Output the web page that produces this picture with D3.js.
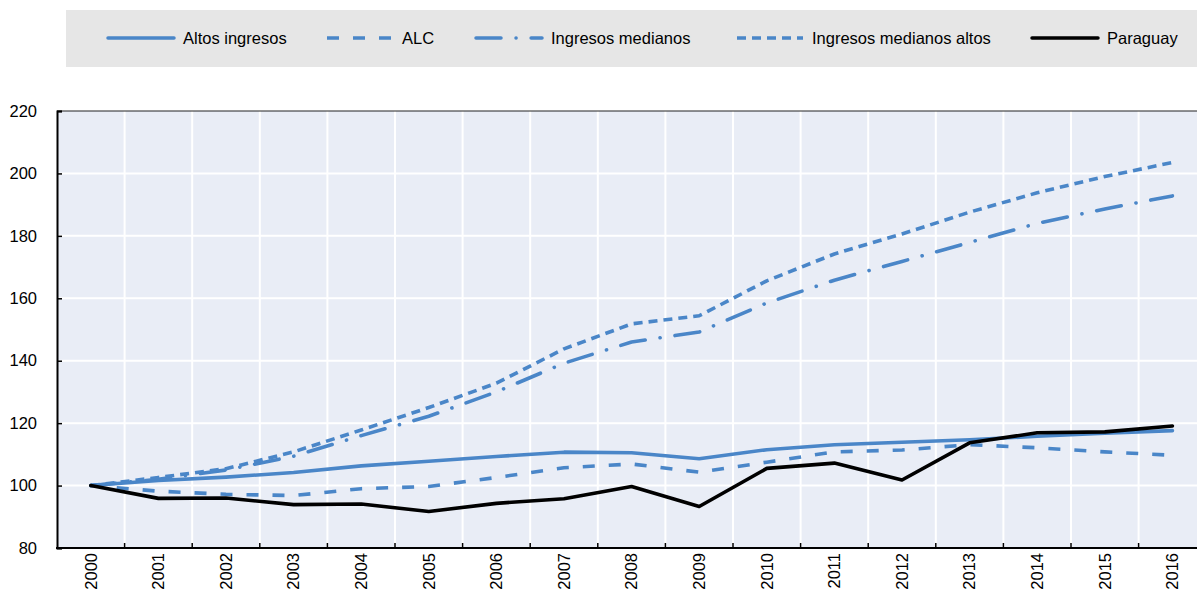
<!DOCTYPE html>
<html>
<head>
<meta charset="utf-8">
<script src="https://cdn.jsdelivr.net/npm/d3@7"></script>
<style>
  body { margin: 0; background: #fff; }
  text { font-family: "Liberation Sans", Arial, sans-serif; font-size: 16.5px; fill: #000; }
</style>
</head>
<body>
<div id="chart"></div>
<script>
// data
const years = ["2000","2001","2002","2003","2004","2005","2006","2007","2008","2009","2010","2011","2012","2013","2014","2015","2016"];
const altosIngresos = [100, 101.6, 102.7, 104.2, 106.3, 107.8, 109.3, 110.7, 110.5, 108.6, 111.5, 113.1, 113.9, 114.7, 115.8, 116.8, 117.6];
const alc = [100, 98.2, 97.2, 96.8, 99.0, 99.7, 102.6, 105.7, 106.9, 104.3, 107.5, 110.8, 111.4, 113.1, 112.1, 110.8, 109.7];
const ingresosMedianos = [100, 102.0, 105.0, 109.4, 116.0, 122.2, 130.0, 139.2, 146.0, 149.2, 158.5, 165.8, 171.8, 177.9, 184.0, 188.6, 192.8];
const ingresosMedianosAltos = [100, 102.6, 105.4, 110.8, 117.8, 125.0, 132.8, 143.8, 151.8, 154.4, 165.6, 174.2, 180.6, 187.6, 193.8, 199.0, 203.5];
const paraguay = [100, 95.9, 96.0, 93.9, 94.1, 91.7, 94.3, 95.8, 99.7, 93.3, 105.5, 107.2, 101.8, 113.7, 116.9, 117.2, 119.1];
const yTicks = [80, 100, 120, 140, 160, 180, 200, 220];

const blue = "#4a86c8";
const series = [
  {name: "Altos ingresos", values: altosIngresos, color: blue, dash: null, cap: "round"},
  {name: "ALC", values: alc, color: blue, dash: "12,14", cap: "butt"},
  {name: "Ingresos medianos", values: ingresosMedianos, color: blue, dash: "25,15,0.1,15", cap: "round"},
  {name: "Ingresos medianos altos", values: ingresosMedianosAltos, color: blue, dash: "9,6", cap: "butt"},
  {name: "Paraguay", values: paraguay, color: "#000", dash: null, cap: "round"}
];

const width = 1197, height = 590;
const plotLeft = 57, plotTop = 111, plotBottom = 548;
const step = 67.6;

const svg = d3.select("#chart").append("svg")
  .attr("width", width).attr("height", height);

/*----- legend -----*/
const legend_g = svg.append("g");
legend_g.append("rect")
  .attr("x", 66).attr("y", 10).attr("width", width).attr("height", 57)
  .attr("fill", "#e6e6e6");

const legendX = [108, 327, 476, 737, 1032];
const legendItems = legend_g.selectAll("g.item").data(series).enter()
  .append("g").attr("class", "item")
  .attr("transform", (d, i) => "translate(" + legendX[i] + ",38)");
legendItems.append("line")
  .attr("x1", 0).attr("x2", 66).attr("y1", 0).attr("y2", 0)
  .attr("stroke", d => d.color).attr("stroke-width", 3.5)
  .attr("stroke-dasharray", d => d.dash).attr("stroke-linecap", d => d.cap);
legendItems.append("text")
  .attr("x", 75).attr("dy", "0.35em")
  .text(d => d.name);

/*----- scales -----*/
const x = d3.scaleBand().domain(years)
  .range([plotLeft, plotLeft + step * years.length]);
const y = d3.scaleLinear().domain([80, 220]).range([plotBottom, plotTop]);
const xc = d => x(d) + x.bandwidth() / 2;

/*----- plot area -----*/
svg.append("rect")
  .attr("x", plotLeft).attr("y", plotTop)
  .attr("width", step * years.length).attr("height", plotBottom - plotTop)
  .attr("fill", "#e9edf6");

const grid_g = svg.append("g");
grid_g.selectAll("line.h").data(yTicks.slice(1, -1)).enter()
  .append("line")
  .attr("x1", plotLeft).attr("x2", plotLeft + step * years.length)
  .attr("y1", d => y(d)).attr("y2", d => y(d))
  .attr("stroke", "#fff").attr("stroke-width", 2);
grid_g.selectAll("line.v").data(years.slice(1)).enter()
  .append("line")
  .attr("x1", d => x(d)).attr("x2", d => x(d))
  .attr("y1", plotTop).attr("y2", plotBottom)
  .attr("stroke", "#fff").attr("stroke-width", 2);

// top frame
svg.append("line")
  .attr("x1", plotLeft).attr("x2", width).attr("y1", plotTop).attr("y2", plotTop)
  .attr("stroke", "#222").attr("stroke-width", 1);

/*----- lines -----*/
const line = d3.line()
  .x((d, i) => xc(years[i]))
  .y(d => y(d));

svg.append("g").selectAll("path").data(series).enter()
  .append("path")
  .attr("d", d => line(d.values))
  .attr("fill", "none")
  .attr("stroke", d => d.color)
  .attr("stroke-width", 3.6)
  .attr("stroke-linejoin", "round")
  .attr("stroke-linecap", d => d.cap)
  .attr("stroke-dasharray", d => d.dash);

/*----- axes -----*/
const yAxis = svg.append("g")
  .attr("transform", "translate(" + plotLeft + ",0)")
  .call(d3.axisLeft(y).tickValues(yTicks).tickSize(-5).tickPadding(20));
yAxis.select(".domain").attr("stroke", "#000").attr("stroke-width", 2);
yAxis.selectAll(".tick line").attr("stroke", "#000").attr("stroke-width", 1.5);
yAxis.selectAll("text").style("font-size", "16.5px").attr("font-family", null);

const xAxis = svg.append("g")
  .attr("transform", "translate(0," + plotBottom + ")");
xAxis.append("line")
  .attr("x1", plotLeft - 1).attr("x2", width).attr("y1", 0).attr("y2", 0)
  .attr("stroke", "#000").attr("stroke-width", 2);
xAxis.selectAll("line.tick").data(years.slice(1)).enter()
  .append("line")
  .attr("x1", d => x(d)).attr("x2", d => x(d))
  .attr("y1", 0).attr("y2", -5)
  .attr("stroke", "#000").attr("stroke-width", 1.5);
xAxis.selectAll("text").data(years).enter()
  .append("text")
  .attr("transform", d => "translate(" + xc(d) + ",5) rotate(-90)")
  .attr("text-anchor", "end")
  .attr("dy", "0.35em")
  .text(d => d);
</script>
</body>
</html>
